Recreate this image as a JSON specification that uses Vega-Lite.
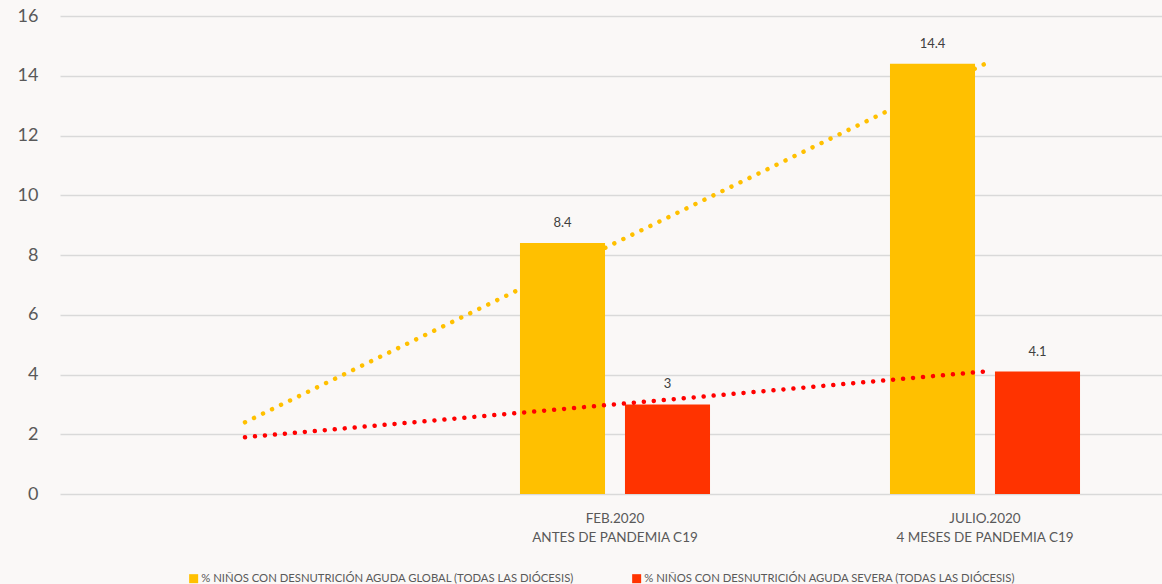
{
  "$schema": "https://vega.github.io/schema/vega-lite/v6.json",
  "autosize": "none",
  "width": 1102,
  "height": 478,
  "padding": {"left": 60, "top": 16, "right": 0, "bottom": 90},
  "background": "#faf8f7",
  "config": {
    "view": {"stroke": null},
    "font": "Lato",
    "axis": {"labelFont": "Lato", "labelColor": "#595959"}
  },
  "datasets": {
    "bars": [
      {"cat": "FEB", "serie": "% NIÑOS CON DESNUTRICIÓN AGUDA GLOBAL (TODAS LAS DIÓCESIS)", "value": 8.4},
      {"cat": "FEB", "serie": "% NIÑOS CON DESNUTRICIÓN AGUDA SEVERA (TODAS LAS DIÓCESIS)", "value": 3},
      {"cat": "JUL", "serie": "% NIÑOS CON DESNUTRICIÓN AGUDA GLOBAL (TODAS LAS DIÓCESIS)", "value": 14.4},
      {"cat": "JUL", "serie": "% NIÑOS CON DESNUTRICIÓN AGUDA SEVERA (TODAS LAS DIÓCESIS)", "value": 4.1}
    ],
    "trend": [
      {"cat": "BLANK", "trend": "global", "value": 2.4},
      {"cat": "FEB", "trend": "global", "value": 8.4},
      {"cat": "JUL", "trend": "global", "value": 14.4},
      {"cat": "BLANK", "trend": "severa", "value": 1.9},
      {"cat": "FEB", "trend": "severa", "value": 3.0},
      {"cat": "JUL", "trend": "severa", "value": 4.1}
    ]
  },
  "encoding": {
    "x": {
      "field": "cat",
      "type": "nominal",
      "scale": {"domain": ["BLANK", "FEB", "JUL"], "range": [0, 1110], "paddingInner": 0, "paddingOuter": 0},
      "axis": {
        "title": null,
        "domain": false,
        "ticks": false,
        "labelAngle": 0,
        "labelFontSize": 13.5,
        "labelPadding": 17,
        "labelLineHeight": 19,
        "labelExpr": "datum.value == 'FEB' ? ['FEB.2020', 'ANTES DE PANDEMIA C19'] : datum.value == 'JUL' ? ['JULIO.2020', '4 MESES DE PANDEMIA C19'] : ''"
      }
    },
    "y": {
      "field": "value",
      "type": "quantitative",
      "scale": {"domain": [0, 16]},
      "axis": {
        "title": null,
        "values": [0, 2, 4, 6, 8, 10, 12, 14, 16],
        "domain": false,
        "ticks": false,
        "labelFontSize": 18,
        "labelPadding": 22,
        "gridColor": "#d9d9d9",
        "gridWidth": 1.5
      }
    }
  },
  "layer": [
    {
      "data": {"name": "bars"},
      "mark": {"type": "bar"},
      "encoding": {
        "xOffset": {
          "field": "serie",
          "type": "nominal",
          "scale": {"paddingInner": 0.19, "paddingOuter": 0.857}
        },
        "color": {
          "field": "serie",
          "type": "nominal",
          "scale": {"range": ["#FFC000", "#FF3300"]},
          "legend": {
            "title": null,
            "orient": "none",
            "direction": "horizontal",
            "columns": 2,
            "legendX": 128,
            "legendY": 557,
            "symbolType": "square",
            "symbolSize": 81,
            "symbolStrokeWidth": 0,
            "labelFontSize": 11.3,
            "labelColor": "#595959",
            "labelOffset": 2,
            "labelLimit": 500,
            "columnPadding": 56
          }
        }
      }
    },
    {
      "data": {"name": "bars"},
      "mark": {"type": "text", "dy": -20, "fontSize": 13, "color": "#404040", "baseline": "middle"},
      "encoding": {
        "xOffset": {
          "field": "serie",
          "type": "nominal",
          "scale": {"paddingInner": 0.19, "paddingOuter": 0.857}
        },
        "text": {"field": "value", "type": "quantitative"}
      }
    },
    {
      "data": {"name": "trend"},
      "mark": {"type": "line", "strokeWidth": 4.5, "strokeDash": [0.01, 10], "strokeCap": "round"},
      "encoding": {
        "detail": {"field": "trend"},
        "stroke": {
          "field": "trend",
          "type": "nominal",
          "scale": {"domain": ["global", "severa"], "range": ["#FFC000", "#FF0000"]},
          "legend": null
        }
      }
    }
  ]
}
